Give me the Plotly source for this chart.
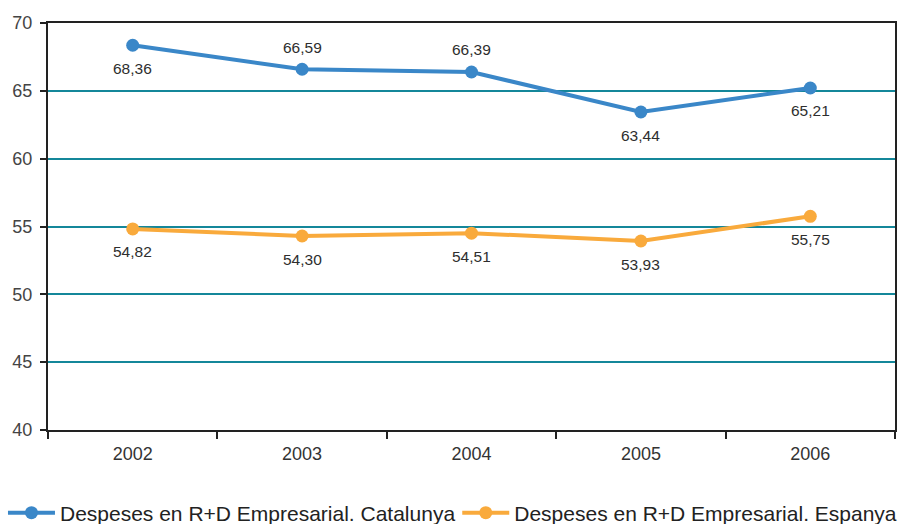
import plotly.graph_objects as go

years = ["2002", "2003", "2004", "2005", "2006"]
catalunya = [68.36, 66.59, 66.39, 63.44, 65.21]
espanya = [54.82, 54.30, 54.51, 53.93, 55.75]
cat_label_pos = ["below", "above", "above", "below", "below"]
esp_label_pos = ["below", "below", "below", "below", "below"]

blue = "#3a87c8"
orange = "#f9aa3c"
grid = "#14879a"
font = "Liberation Sans, Arial, Helvetica, sans-serif"

def fmt(v):
    return f"{v:.2f}".replace(".", ",")

fig = go.Figure()
fig.add_trace(go.Scatter(
    x=years, y=catalunya, mode="lines+markers",
    name="Despeses en R+D Empresarial. Catalunya",
    line=dict(color=blue, width=4),
    marker=dict(color=blue, size=13),
    legend="legend",
))
fig.add_trace(go.Scatter(
    x=years, y=espanya, mode="lines+markers",
    name="Despeses en R+D Empresarial. Espanya",
    line=dict(color=orange, width=4),
    marker=dict(color=orange, size=13),
    legend="legend2",
))

# value labels, placed by category index above or below each point
for series, positions in ((catalunya, cat_label_pos), (espanya, esp_label_pos)):
    for i, (v, p) in enumerate(zip(series, positions)):
        fig.add_annotation(
            x=i, y=v, xref="x", yref="y", text=fmt(v), showarrow=False,
            yshift=-23 if p == "below" else 22,
            font=dict(family=font, size=15.5, color="#2e2e2e"),
        )

legend_common = dict(
    orientation="h", xanchor="left",
    yref="container", y=0.021, yanchor="middle",
    font=dict(family=font, size=21, color="#222222"),
    itemwidth=47, bgcolor="rgba(0,0,0,0)",
)

fig.update_layout(
    width=901, height=524,
    margin=dict(l=48, r=6, t=23, b=94, autoexpand=False),
    paper_bgcolor="white", plot_bgcolor="white",
    font=dict(family=font, color="#333333"),
    showlegend=True,
    legend=dict(xref="container", x=0.0033, **legend_common),
    legend2=dict(xref="container", x=0.5075, **legend_common),
    xaxis=dict(
        type="category", tickson="boundaries",
        ticks="outside", ticklen=7, tickwidth=2, tickcolor="#222222",
        showline=True, linecolor="#222222", linewidth=2, mirror=True,
        showgrid=False, tickfont=dict(family=font, size=18, color="#333333"),
        ticklabelstandoff=6,
        range=[-0.5, 4.5], automargin=False,
    ),
    yaxis=dict(
        range=[40, 70], tickvals=[40, 45, 50, 55, 60, 65, 70],
        ticks="outside", ticklen=6, tickwidth=1.5, tickcolor="#222222",
        showline=True, linecolor="#222222", linewidth=2, mirror=True,
        showgrid=True, gridcolor=grid, gridwidth=2,
        tickfont=dict(family=font, size=18, color="#444444"),
        ticklabelstandoff=4,
        zeroline=False, automargin=False,
    ),
)

fig.write_html("out.html")
